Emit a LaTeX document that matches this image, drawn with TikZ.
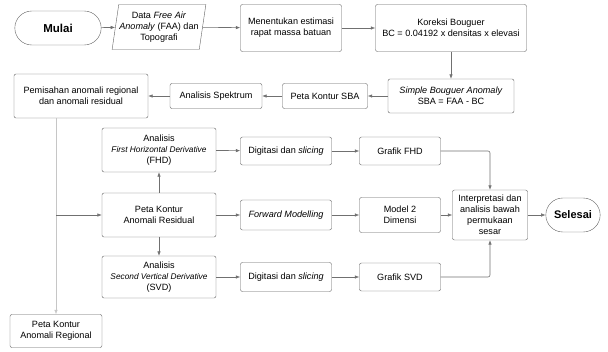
\documentclass[tikz,border=0pt]{standalone}
\usepackage{fontspec}
\setmainfont{Liberation Sans}
\usetikzlibrary{shapes.geometric,shapes.misc,arrows.meta}

\definecolor{garis}{HTML}{707070}
\definecolor{tepi}{HTML}{606060}
\newcommand{\kecil}{\fontsize{8.3}{10}\selectfont\itshape}

\begin{document}
\begin{tikzpicture}[x=1pt, y=-1pt,
  >={Latex[length=4.5pt,width=3.5pt]},
  kotak/.style={draw=tepi, rounded corners=2pt, align=center, inner sep=2pt,
    font=\fontsize{9.1}{11}\selectfont},
  ujung/.style={draw=tepi, rounded rectangle, align=center,
    font=\fontsize{11.5}{13}\selectfont\bfseries},
  alur/.style={->, draw=garis, line width=0.6pt}]

\useasboundingbox (0,0) rectangle (608,351);

%=== Baris atas ===
\node[ujung, minimum width=93, minimum height=34] (mulai) at (58,28) {Mulai};
\node[draw=tepi, trapezium, trapezium left angle=80, trapezium right angle=100,
  trapezium stretches=true, minimum width=94, minimum height=45, align=center,
  inner xsep=0pt, font=\fontsize{9.1}{11}\selectfont] (faa) at (159,27)
  {Data \textit{Free Air}\\\textit{Anomaly} (FAA) dan\\Topografi};
\node[kotak, minimum width=101, minimum height=47] (tentu) at (291,28)
  {Menentukan estimasi\\rapat massa batuan};
\node[kotak, minimum width=151, minimum height=47] (koreksi) at (451,28)
  {Koreksi Bouguer\\BC = 0.04192 x densitas x elevasi};

%=== Baris kedua ===
\node[kotak, minimum width=126, minimum height=34] (sba) at (451,96)
  {\textit{Simple Bouguer Anomaly}\\SBA = FAA - BC};
\node[kotak, minimum width=85, minimum height=25] (kontursba) at (325,96)
  {Peta Kontur SBA};
\node[kotak, minimum width=92, minimum height=25] (spektrum) at (216,96)
  {Analisis Spektrum};
\node[kotak, minimum width=134, minimum height=44] (pisah) at (81,96)
  {Pemisahan anomali regional\\dan anomali residual};

%=== Kolom analisis ===
\node[kotak, minimum width=114, minimum height=44] (fhd) at (159,150)
  {Analisis\\{\kecil First Horizontal Derivative}\\(FHD)};
\node[kotak, minimum width=114, minimum height=44] (residual) at (159,215)
  {Peta Kontur\\Anomali Residual};
\node[kotak, minimum width=114, minimum height=42] (svd) at (159,277)
  {Analisis\\{\kecil Second Vertical Derivative}\\(SVD)};
\node[kotak, minimum width=92, minimum height=33] (regional) at (56,331)
  {Peta Kontur\\Anomali Regional};

\node[kotak, minimum width=91, minimum height=28] (dig1) at (286,151)
  {Digitasi dan \textit{slicing}};
\node[kotak, minimum width=91, minimum height=30] (fwd) at (286,215)
  {\textit{Forward Modelling}};
\node[kotak, minimum width=91, minimum height=29] (dig2) at (286,277)
  {Digitasi dan \textit{slicing}};

\node[kotak, minimum width=81, minimum height=28] (gfhd) at (400,151)
  {Grafik FHD};
\node[kotak, minimum width=81, minimum height=35] (model) at (400,215)
  {Model 2\\Dimensi};
\node[kotak, minimum width=81, minimum height=28] (gsvd) at (400,277)
  {Grafik SVD};

\node[kotak, minimum width=75, minimum height=50] (interp) at (490,215)
  {Interpretasi dan\\analisis bawah\\permukaan\\sesar};
\node[ujung, minimum width=61, minimum height=34, font=\fontsize{11}{13}\selectfont\bfseries]
  (selesai) at (573,215) {Selesai};

%=== Panah ===
\draw[alur] (mulai) -- (faa);
\draw[alur] (faa) -- (tentu);
\draw[alur] (tentu) -- (koreksi);
\draw[alur] (koreksi) -- (sba);
\draw[alur] (sba) -- (kontursba);
\draw[alur] (kontursba) -- (spektrum);
\draw[alur] (spektrum) -- (pisah);

% cabang regional / residual
\coordinate (cabang) at (regional.north |- residual.west);
\draw[->, draw=gray!45, line width=0.6pt] (regional.north |- pisah.south) -- (regional.north);
\draw[alur] (cabang) -- (residual);

\foreach \a/\b in {residual/fhd, residual/svd, residual/fwd,
                   fhd/dig1, dig1/gfhd, fwd/model, model/interp,
                   svd/dig2, dig2/gsvd, interp/selesai}
  \draw[alur] (\a) -- (\b);

\draw[alur, rounded corners=2pt] (gfhd) -| (interp);
\draw[alur, rounded corners=2pt] (gsvd) -| (interp);

\end{tikzpicture}
\end{document}
